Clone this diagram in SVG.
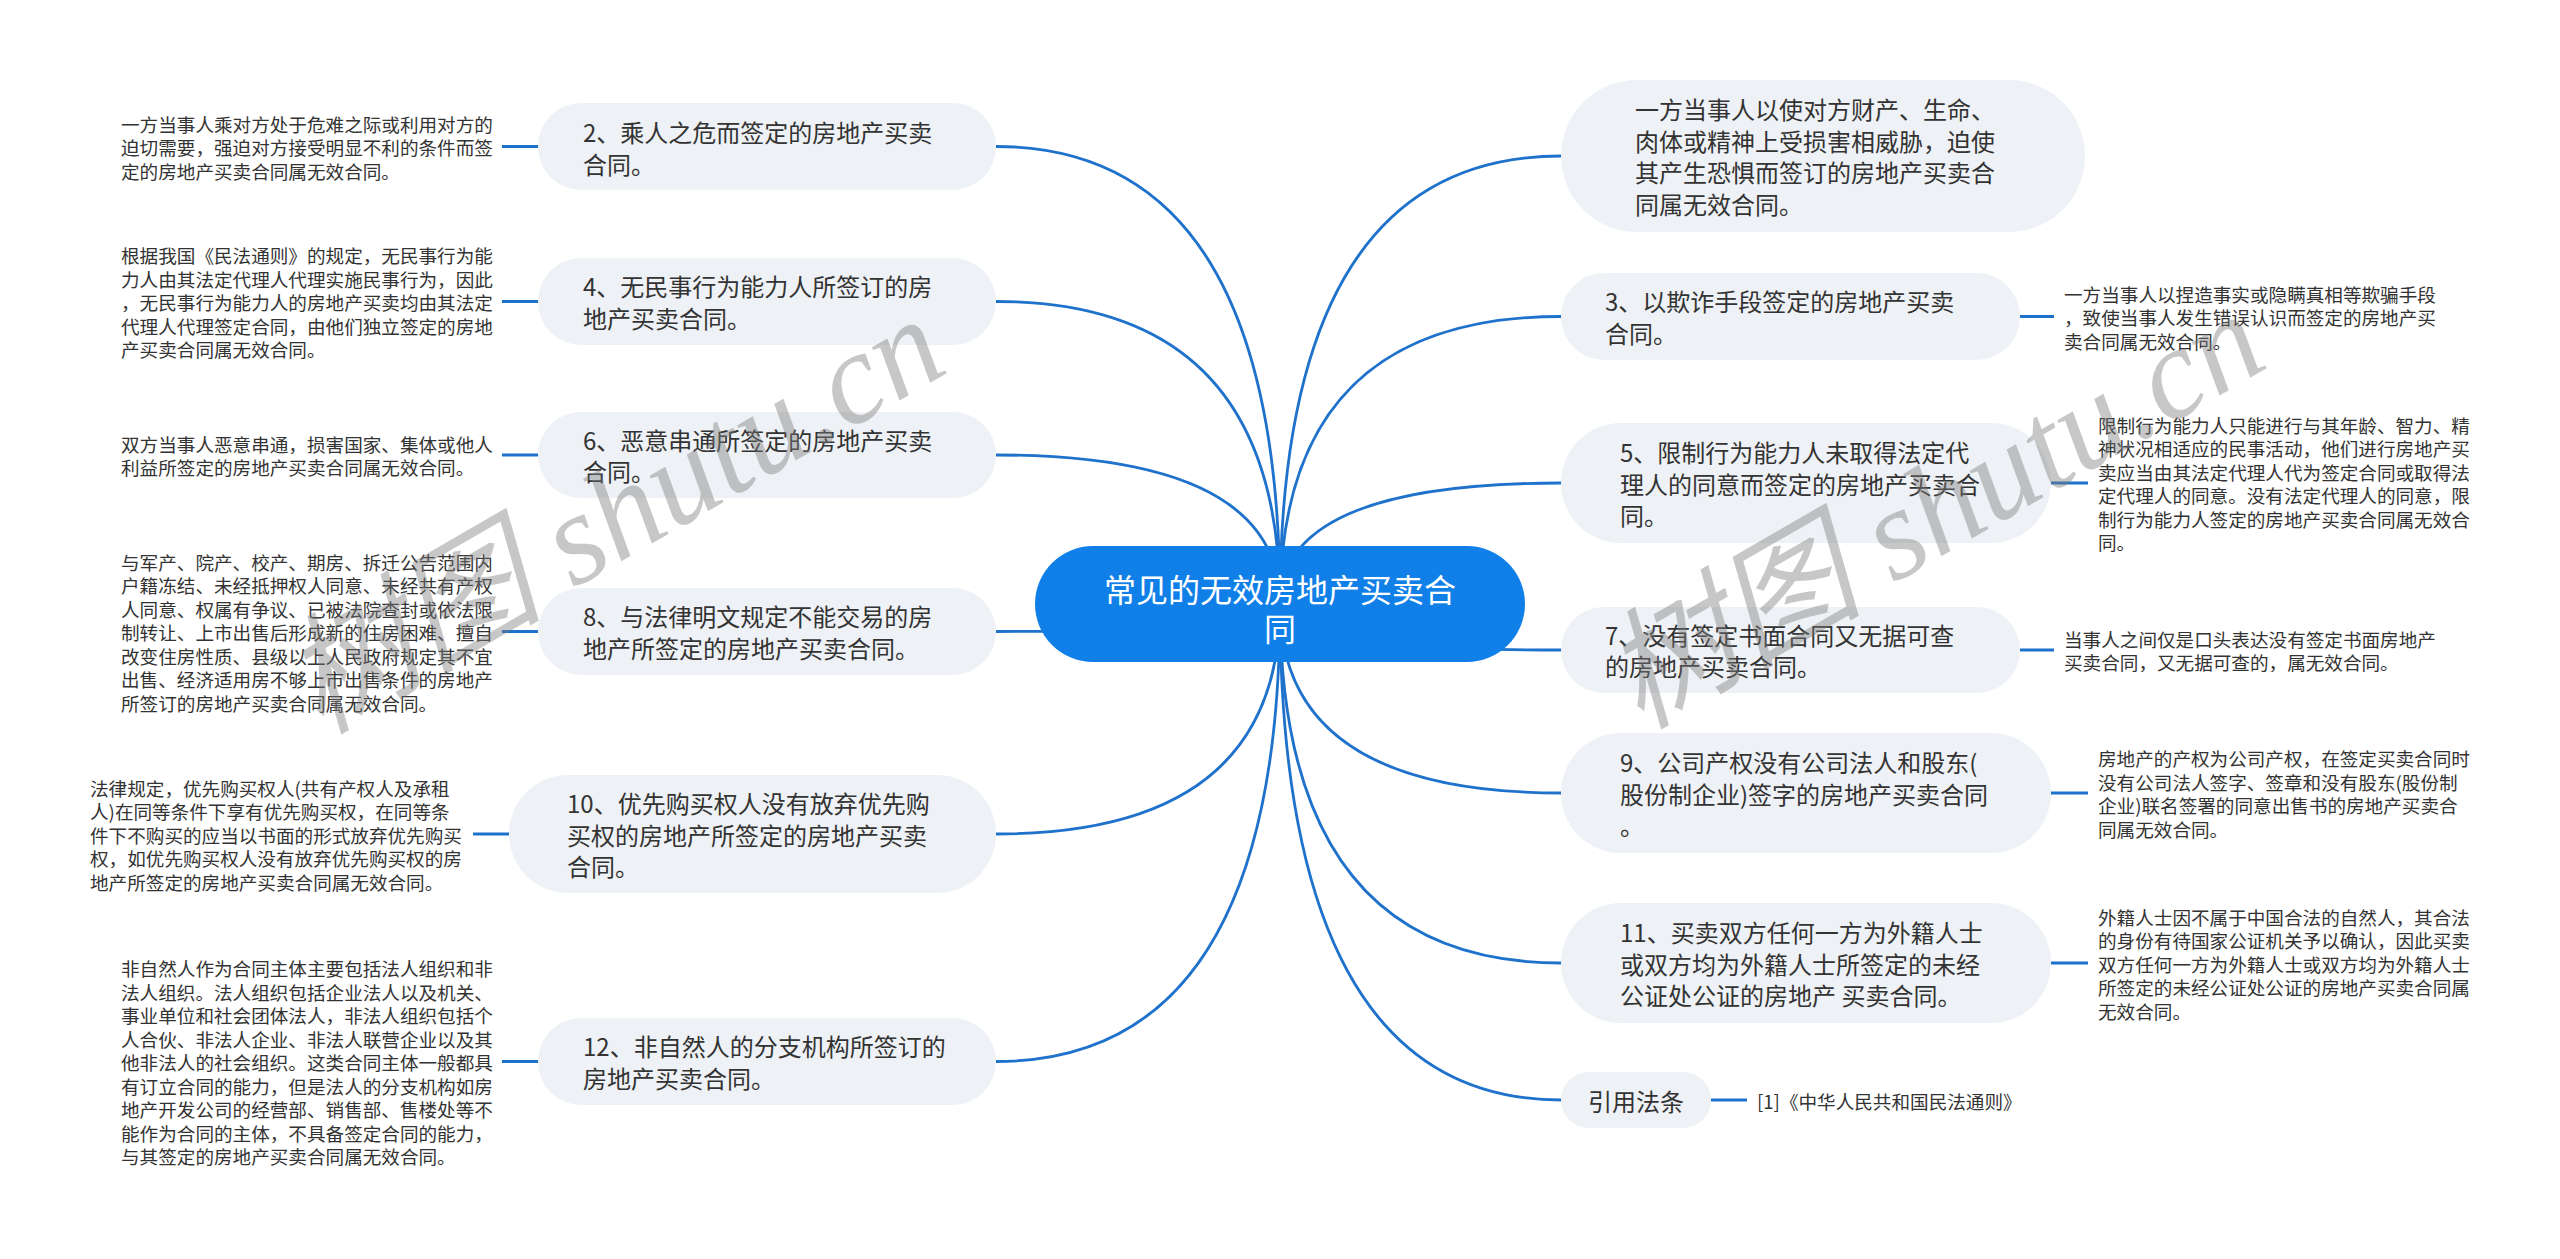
<svg xmlns="http://www.w3.org/2000/svg" width="2560" height="1259" viewBox="0 0 2560 1259">
<style>
.bg{fill:#ffffff}
.n rect{fill:#EEF1F5}
.t{font-family:"Noto Sans CJK SC","Noto Sans",sans-serif;font-size:24px;fill:#333333;dominant-baseline:central}
.d{font-family:"Noto Sans CJK SC","Noto Sans",sans-serif;font-size:18.6px;fill:#333333;dominant-baseline:central}
.c path{stroke:#1F72CC;stroke-width:2.8;fill:none}
.c line{stroke:#1F72CC;stroke-width:3.2}
.wm{font-family:"Liberation Serif","Noto Sans CJK SC",serif;font-style:italic;font-size:130px;fill:#7a7a7a;fill-opacity:0.42}
</style>
<rect class="bg" x="0" y="0" width="2560" height="1259"/>
<g id="connectors" class="c">
<path d="M1280 604 Q1280 146.5 996 146.5"/>
<path d="M1280 604 Q1280 301.5 996 301.5"/>
<path d="M1280 604 Q1280 455 996 455"/>
<path d="M1280 604 Q1280 631.5 996 631.5"/>
<path d="M1280 604 Q1280 834 996 834"/>
<path d="M1280 604 Q1280 1061.5 996 1061.5"/>
<path d="M1280 604 Q1280 156 1561 156"/>
<path d="M1280 604 Q1280 316.5 1561 316.5"/>
<path d="M1280 604 Q1280 483 1561 483"/>
<path d="M1280 604 Q1280 650 1561 650"/>
<path d="M1280 604 Q1280 793 1561 793"/>
<path d="M1280 604 Q1280 963 1561 963"/>
<path d="M1280 604 Q1280 1100 1561 1100"/>
<line x1="502" y1="146.5" x2="538" y2="146.5"/>
<line x1="502" y1="301.5" x2="538" y2="301.5"/>
<line x1="502" y1="455" x2="538" y2="455"/>
<line x1="502" y1="631.5" x2="538" y2="631.5"/>
<line x1="473" y1="834" x2="509" y2="834"/>
<line x1="502" y1="1061.5" x2="538" y2="1061.5"/>
<line x1="2020" y1="316.5" x2="2054" y2="316.5"/>
<line x1="2051" y1="483" x2="2088" y2="483"/>
<line x1="2020" y1="650" x2="2054" y2="650"/>
<line x1="2051" y1="793" x2="2088" y2="793"/>
<line x1="2051" y1="963" x2="2088" y2="963"/>
<line x1="1711" y1="1100" x2="1747" y2="1100"/>
</g>
<g id="root">
<rect x="1035" y="546" width="490" height="116" rx="58" fill="#1080E8"/>
<text x="1280" y="588" text-anchor="middle" style="font-family:'Noto Sans CJK SC','Noto Sans',sans-serif;font-size:32px;fill:#ffffff;dominant-baseline:central">常见的无效房地产买卖合</text>
<text x="1280" y="627" text-anchor="middle" style="font-family:'Noto Sans CJK SC','Noto Sans',sans-serif;font-size:32px;fill:#ffffff;dominant-baseline:central">同</text>
</g>
<g id="n2" class="n">
<rect x="538" y="103" width="458" height="87" rx="43.5"/>
<text class="t" x="583" y="131.7">2、乘人之危而签定的房地产买卖</text>
<text class="t" x="583" y="163.3">合同。</text>
</g>
<g id="d2">
<text class="d" x="121" y="123">一方当事人乘对方处于危难之际或利用对方的</text>
<text class="d" x="121" y="146.5">迫切需要，强迫对方接受明显不利的条件而签</text>
<text class="d" x="121" y="170">定的房地产买卖合同属无效合同。</text>
</g>
<g id="n4" class="n">
<rect x="538" y="258" width="458" height="87" rx="43.5"/>
<text class="t" x="583" y="285.7">4、无民事行为能力人所签订的房</text>
<text class="t" x="583" y="317.3">地产买卖合同。</text>
</g>
<g id="d4">
<text class="d" x="121" y="254.5">根据我国《民法通则》的规定，无民事行为能</text>
<text class="d" x="121" y="278">力人由其法定代理人代理实施民事行为，因此</text>
<text class="d" x="121" y="301.5">，无民事行为能力人的房地产买卖均由其法定</text>
<text class="d" x="121" y="325">代理人代理签定合同，由他们独立签定的房地</text>
<text class="d" x="121" y="348.5">产买卖合同属无效合同。</text>
</g>
<g id="n6" class="n">
<rect x="538" y="412" width="458" height="86" rx="43"/>
<text class="t" x="583" y="439">6、恶意串通所签定的房地产买卖</text>
<text class="t" x="583" y="470.6">合同。</text>
</g>
<g id="d6">
<text class="d" x="121" y="443.25">双方当事人恶意串通，损害国家、集体或他人</text>
<text class="d" x="121" y="466.75">利益所签定的房地产买卖合同属无效合同。</text>
</g>
<g id="n8" class="n">
<rect x="538" y="588" width="458" height="87" rx="43.5"/>
<text class="t" x="583" y="615.7">8、与法律明文规定不能交易的房</text>
<text class="t" x="583" y="647.3">地产所签定的房地产买卖合同。</text>
</g>
<g id="d8">
<text class="d" x="121" y="561">与军产、院产、校产、期房、拆迁公告范围内</text>
<text class="d" x="121" y="584.5">户籍冻结、未经抵押权人同意、未经共有产权</text>
<text class="d" x="121" y="608">人同意、权属有争议、已被法院查封或依法限</text>
<text class="d" x="121" y="631.5">制转让、上市出售后形成新的住房困难、擅自</text>
<text class="d" x="121" y="655">改变住房性质、县级以上人民政府规定其不宜</text>
<text class="d" x="121" y="678.5">出售、经济适用房不够上市出售条件的房地产</text>
<text class="d" x="121" y="702">所签订的房地产买卖合同属无效合同。</text>
</g>
<g id="n10" class="n">
<rect x="509" y="775" width="487" height="118" rx="59"/>
<text class="t" x="567" y="802.4">10、优先购买权人没有放弃优先购</text>
<text class="t" x="567" y="834">买权的房地产所签定的房地产买卖</text>
<text class="t" x="567" y="865.6">合同。</text>
</g>
<g id="d10">
<text class="d" x="90" y="787">法律规定，优先购买权人(共有产权人及承租</text>
<text class="d" x="90" y="810.5">人)在同等条件下享有优先购买权，在同等条</text>
<text class="d" x="90" y="834">件下不购买的应当以书面的形式放弃优先购买</text>
<text class="d" x="90" y="857.5">权，如优先购买权人没有放弃优先购买权的房</text>
<text class="d" x="90" y="881">地产所签定的房地产买卖合同属无效合同。</text>
</g>
<g id="n12" class="n">
<rect x="538" y="1018" width="458" height="87" rx="43.5"/>
<text class="t" x="583" y="1045.7">12、非自然人的分支机构所签订的</text>
<text class="t" x="583" y="1077.3">房地产买卖合同。</text>
</g>
<g id="d12">
<text class="d" x="121" y="967.5">非自然人作为合同主体主要包括法人组织和非</text>
<text class="d" x="121" y="991">法人组织。法人组织包括企业法人以及机关、</text>
<text class="d" x="121" y="1014.5">事业单位和社会团体法人，非法人组织包括个</text>
<text class="d" x="121" y="1038">人合伙、非法人企业、非法人联营企业以及其</text>
<text class="d" x="121" y="1061.5">他非法人的社会组织。这类合同主体一般都具</text>
<text class="d" x="121" y="1085">有订立合同的能力，但是法人的分支机构如房</text>
<text class="d" x="121" y="1108.5">地产开发公司的经营部、销售部、售楼处等不</text>
<text class="d" x="121" y="1132">能作为合同的主体，不具备签定合同的能力，</text>
<text class="d" x="121" y="1155.5">与其签定的房地产买卖合同属无效合同。</text>
</g>
<g id="n1" class="n">
<rect x="1561" y="80" width="524" height="152" rx="76"/>
<text class="t" x="1635" y="108.5">一方当事人以使对方财产、生命、</text>
<text class="t" x="1635" y="140.2">肉体或精神上受损害相威胁，迫使</text>
<text class="t" x="1635" y="171.8">其产生恐惧而签订的房地产买卖合</text>
<text class="t" x="1635" y="203.5">同属无效合同。</text>
</g>
<g id="n3" class="n">
<rect x="1561" y="273" width="459" height="87" rx="43.5"/>
<text class="t" x="1605" y="300.7">3、以欺诈手段签定的房地产买卖</text>
<text class="t" x="1605" y="332.3">合同。</text>
</g>
<g id="d3">
<text class="d" x="2064" y="293">一方当事人以捏造事实或隐瞒真相等欺骗手段</text>
<text class="d" x="2064" y="316.5">，致使当事人发生错误认识而签定的房地产买</text>
<text class="d" x="2064" y="340">卖合同属无效合同。</text>
</g>
<g id="n5" class="n">
<rect x="1561" y="423" width="490" height="120" rx="60"/>
<text class="t" x="1620" y="451.4">5、限制行为能力人未取得法定代</text>
<text class="t" x="1620" y="483">理人的同意而签定的房地产买卖合</text>
<text class="t" x="1620" y="514.6">同。</text>
</g>
<g id="d5">
<text class="d" x="2098" y="424.25">限制行为能力人只能进行与其年龄、智力、精</text>
<text class="d" x="2098" y="447.75">神状况相适应的民事活动，他们进行房地产买</text>
<text class="d" x="2098" y="471.25">卖应当由其法定代理人代为签定合同或取得法</text>
<text class="d" x="2098" y="494.75">定代理人的同意。没有法定代理人的同意，限</text>
<text class="d" x="2098" y="518.25">制行为能力人签定的房地产买卖合同属无效合</text>
<text class="d" x="2098" y="541.75">同。</text>
</g>
<g id="n7" class="n">
<rect x="1561" y="607" width="459" height="86" rx="43"/>
<text class="t" x="1605" y="634.2">7、没有签定书面合同又无据可查</text>
<text class="t" x="1605" y="665.8">的房地产买卖合同。</text>
</g>
<g id="d7">
<text class="d" x="2064" y="638.25">当事人之间仅是口头表达没有签定书面房地产</text>
<text class="d" x="2064" y="661.75">买卖合同，又无据可查的，属无效合同。</text>
</g>
<g id="n9" class="n">
<rect x="1561" y="733" width="490" height="120" rx="60"/>
<text class="t" x="1620" y="761.4">9、公司产权没有公司法人和股东(</text>
<text class="t" x="1620" y="793">股份制企业)签字的房地产买卖合同</text>
<text class="t" x="1620" y="824.6">。</text>
</g>
<g id="d9">
<text class="d" x="2098" y="757.75">房地产的产权为公司产权，在签定买卖合同时</text>
<text class="d" x="2098" y="781.25">没有公司法人签字、签章和没有股东(股份制</text>
<text class="d" x="2098" y="804.75">企业)联名签署的同意出售书的房地产买卖合</text>
<text class="d" x="2098" y="828.25">同属无效合同。</text>
</g>
<g id="n11" class="n">
<rect x="1561" y="903" width="490" height="120" rx="60"/>
<text class="t" x="1620" y="931.4">11、买卖双方任何一方为外籍人士</text>
<text class="t" x="1620" y="963">或双方均为外籍人士所签定的未经</text>
<text class="t" x="1620" y="994.6">公证处公证的房地产 买卖合同。</text>
</g>
<g id="d11">
<text class="d" x="2098" y="916">外籍人士因不属于中国合法的自然人，其合法</text>
<text class="d" x="2098" y="939.5">的身份有待国家公证机关予以确认，因此买卖</text>
<text class="d" x="2098" y="963">双方任何一方为外籍人士或双方均为外籍人士</text>
<text class="d" x="2098" y="986.5">所签定的未经公证处公证的房地产买卖合同属</text>
<text class="d" x="2098" y="1010">无效合同。</text>
</g>
<g id="n13" class="n">
<rect x="1561" y="1072" width="150" height="56" rx="28"/>
<text class="t" x="1636" y="1100" text-anchor="middle">引用法条</text>
</g>
<g id="d13">
<text class="d" x="1757" y="1100">[1]《中华人民共和国民法通则》</text>
</g>
<g id="watermarks">
<text class="wm" transform="translate(320,735) rotate(-30)">树图 shutu.cn</text>
<text class="wm" transform="translate(1640,730) rotate(-30)">树图 shutu.cn</text>
</g>
</svg>
